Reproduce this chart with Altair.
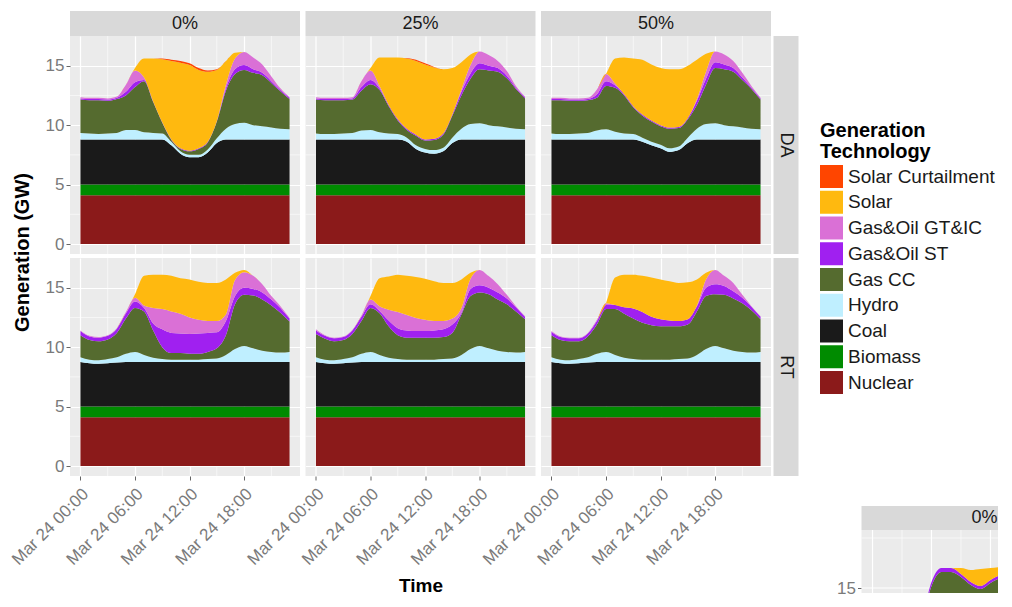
import altair as alt
import pandas as pd

HOURS = [0, 1, 2, 3, 4, 5, 6, 7, 8, 9, 10, 11, 12, 13, 14, 15, 16, 17, 18, 19, 20, 21, 22, 23]
LEGEND_ORDER = ["Solar Curtailment", "Solar", "Gas&Oil GT&IC", "Gas&Oil ST", "Gas CC",
                "Hydro", "Coal", "Biomass", "Nuclear"]
COLORS = ["#FF4500", "#FFB90F", "#DA70D6", "#A020F0", "#556B2F",
          "#BFEFFF", "#1A1A1A", "#008B00", "#8B1A1A"]
STACK_ORDER = ["Nuclear", "Biomass", "Coal", "Hydro", "Gas CC", "Gas&Oil ST",
               "Gas&Oil GT&IC", "Solar", "Solar Curtailment"]
COLS = ["0%", "25%", "50%"]
ROWS = ["DA", "RT"]
Y_TICKS = [0, 5, 10, 15]
Y_MINOR = [2.5, 7.5, 12.5]
X_TICKS = [0, 6, 12, 18]
X_MINOR = [3, 9, 15, 21]

NUCLEAR = [4.1, 4.1, 4.1, 4.1, 4.1, 4.1, 4.1, 4.1, 4.1, 4.1, 4.1, 4.1,
           4.1, 4.1, 4.1, 4.1, 4.1, 4.1, 4.1, 4.1, 4.1, 4.1, 4.1, 4.1]
BIOMASS = [0.9, 0.9, 0.9, 0.9, 0.9, 0.9, 0.9, 0.9, 0.9, 0.9, 0.9, 0.9,
           0.9, 0.9, 0.9, 0.9, 0.9, 0.9, 0.9, 0.9, 0.9, 0.9, 0.9, 0.9]
NO_CURT = [0, 0, 0, 0, 0, 0, 0, 0, 0, 0, 0, 0, 0, 0, 0, 0, 0, 0, 0, 0, 0, 0, 0, 0]

# ---- DA 0% ----
DA0_COAL = [3.8, 3.8, 3.8, 3.8, 3.8, 3.8, 3.8, 3.8, 3.8, 3.8, 3.3, 2.6, 2.3, 2.3, 2.7, 3.5, 3.8, 3.8, 3.8, 3.8, 3.8, 3.8, 3.8, 3.8]
DA0_HYDRO = [0.55, 0.5, 0.45, 0.5, 0.55, 0.8, 0.8, 0.6, 0.55, 0.5, 0.3, 0.2, 0.2, 0.2, 0.25, 0.4, 0.9, 1.3, 1.4, 1.2, 1.1, 1.0, 0.9, 0.85]
DA0_GASCC = [2.8, 2.8, 2.85, 2.75, 2.85, 2.9, 3.6, 4.3, 2.6, 0.9, 0.15, 0.2, 0.3, 0.5, 0.6, 1.4, 3.2, 4.2, 4.45, 4.4, 4.3, 3.75, 3.15, 2.55]
DA0_ST = [0.1, 0.1, 0.1, 0.1, 0.1, 0.3, 0.4, 0.1, 0.05, 0.05, 0.05, 0.05, 0.05, 0.05, 0.05, 0.05, 0.2, 0.4, 0.4, 0.3, 0.2, 0.15, 0.1, 0.1]
DA0_GTIC = [0.1, 0.1, 0.1, 0.1, 0.1, 0.6, 1.0, 0.2, 0, 0, 0, 0, 0, 0, 0, 0, 0.3, 0.9, 1.1, 1.0, 0.7, 0.4, 0.15, 0.05]
DA0_SOLAR = [0, 0, 0, 0, 0, 0, 0.2, 1.6, 3.6, 5.3, 6.6, 7.2, 7.2, 6.6, 5.9, 4.3, 2.0, 0.5, 0, 0, 0, 0, 0, 0]
DA0_CURT = [0, 0, 0, 0, 0, 0, 0, 0, 0, 0.05, 0.1, 0.15, 0.15, 0.15, 0.1, 0.05, 0, 0, 0, 0, 0, 0, 0, 0]

# ---- DA 25% ----
DA25_COAL = [3.8, 3.8, 3.8, 3.8, 3.8, 3.8, 3.8, 3.8, 3.8, 3.8, 3.6, 3.0, 2.7, 2.6, 2.8, 3.5, 3.8, 3.8, 3.8, 3.8, 3.8, 3.8, 3.8, 3.8]
DA25_HYDRO = [0.5, 0.45, 0.45, 0.5, 0.55, 0.75, 0.8, 0.6, 0.5, 0.45, 0.35, 0.3, 0.3, 0.3, 0.3, 0.45, 0.9, 1.3, 1.35, 1.2, 1.1, 1.0, 0.9, 0.85]
DA25_GASCC = [2.85, 2.85, 2.85, 2.8, 2.8, 3.35, 3.85, 3.55, 2.3, 1.15, 0.65, 0.8, 0.7, 0.85, 1.1, 1.85, 2.8, 3.8, 4.55, 4.6, 4.6, 4.15, 3.35, 2.6]
DA25_ST = [0.1, 0.1, 0.1, 0.1, 0.1, 0.3, 0.35, 0.15, 0.1, 0.1, 0.1, 0.1, 0.1, 0.1, 0.1, 0.1, 0.3, 0.45, 0.5, 0.4, 0.3, 0.2, 0.1, 0.1]
DA25_GTIC = [0.1, 0.1, 0.1, 0.1, 0.1, 0.5, 0.8, 0.2, 0, 0, 0, 0, 0, 0, 0, 0, 0.2, 0.7, 1.0, 0.9, 0.6, 0.4, 0.15, 0.05]
DA25_SOLAR = [0, 0, 0, 0, 0, 0, 0.2, 2.4, 4.0, 5.2, 5.9, 6.2, 6.3, 6.0, 5.4, 3.9, 2.3, 0.9, 0, 0, 0, 0, 0, 0]
DA25_CURT = [0, 0, 0, 0, 0, 0, 0, 0, 0, 0, 0.05, 0.1, 0.1, 0.05, 0, 0, 0, 0, 0, 0, 0, 0, 0, 0]

# ---- DA 50% ----
DA50_COAL = [3.8, 3.8, 3.8, 3.8, 3.8, 3.8, 3.8, 3.8, 3.8, 3.8, 3.6, 3.3, 3.05, 2.75, 2.9, 3.5, 3.8, 3.8, 3.8, 3.8, 3.8, 3.8, 3.8, 3.8]
DA50_HYDRO = [0.5, 0.45, 0.45, 0.5, 0.55, 0.75, 0.85, 0.65, 0.5, 0.45, 0.35, 0.3, 0.3, 0.3, 0.3, 0.45, 0.9, 1.3, 1.35, 1.2, 1.1, 1.0, 0.9, 0.85]
DA50_GASCC = [2.8, 2.85, 2.8, 2.75, 2.75, 2.75, 3.65, 3.7, 3.2, 2.25, 1.85, 1.7, 1.55, 1.65, 1.55, 1.55, 2.0, 3.3, 4.65, 4.7, 4.6, 4.0, 3.35, 2.5]
DA50_ST = [0.1, 0.1, 0.1, 0.1, 0.1, 0.3, 0.4, 0.2, 0.1, 0.1, 0.1, 0.1, 0.1, 0.1, 0.1, 0.1, 0.35, 0.5, 0.5, 0.4, 0.3, 0.2, 0.1, 0.1]
DA50_GTIC = [0.1, 0.1, 0.1, 0.1, 0.1, 0.4, 0.6, 0.15, 0, 0, 0, 0, 0, 0, 0, 0, 0.15, 0.6, 0.9, 0.85, 0.6, 0.4, 0.15, 0.05]
DA50_SOLAR = [0, 0, 0, 0, 0, 0, 0, 2.1, 3.1, 4.0, 4.6, 4.7, 4.8, 4.9, 4.85, 4.4, 3.3, 1.5, 0, 0, 0, 0, 0, 0]

# ---- RT ----
RT_COAL = [3.75, 3.65, 3.6, 3.65, 3.7, 3.75, 3.75, 3.75, 3.75, 3.75, 3.75, 3.75, 3.75, 3.75, 3.75, 3.75, 3.75, 3.75, 3.75, 3.75, 3.75, 3.75, 3.75, 3.75]
RT_HYDRO = [0.4, 0.3, 0.3, 0.35, 0.45, 0.7, 0.85, 0.6, 0.35, 0.25, 0.2, 0.2, 0.2, 0.2, 0.25, 0.3, 0.6, 1.1, 1.35, 1.15, 0.95, 0.85, 0.8, 0.85]

RT0_GASCC = [1.85, 1.65, 1.6, 1.65, 2.05, 2.95, 3.7, 3.65, 2.3, 1.0, 0.55, 0.55, 0.5, 0.5, 0.6, 0.85, 1.65, 3.75, 4.3, 4.45, 4.3, 3.9, 3.35, 2.55]
RT0_ST = [0.35, 0.3, 0.3, 0.3, 0.35, 0.45, 0.55, 0.3, 0.6, 1.5, 1.7, 1.65, 1.65, 1.7, 1.6, 1.35, 1.2, 0.7, 0.6, 0.55, 0.6, 0.5, 0.4, 0.25]
RT0_GTIC = [0.05, 0.05, 0.05, 0.05, 0.05, 0.1, 0.3, 0.2, 1.3, 1.7, 1.8, 1.65, 1.4, 1.15, 1.0, 0.95, 0.55, 1.35, 1.3, 1.1, 0.7, 0.3, 0.15, 0.05]
RT0_SOLAR = [0, 0, 0, 0, 0, 0, 0.3, 2.5, 2.8, 2.9, 3.0, 3.0, 3.2, 3.2, 3.2, 3.2, 2.95, 0.6, 0.2, 0, 0, 0, 0, 0]

RT25_GASCC = [1.95, 1.75, 1.6, 1.6, 1.95, 2.75, 3.7, 3.5, 2.65, 2.0, 1.85, 1.85, 1.85, 1.85, 1.85, 2.15, 3.4, 4.45, 4.5, 4.55, 4.3, 4.0, 3.45, 2.75]
RT25_ST = [0.3, 0.25, 0.25, 0.25, 0.3, 0.35, 0.3, 0.2, 0.5, 0.6, 0.6, 0.55, 0.55, 0.6, 0.65, 0.7, 0.15, 0.6, 0.6, 0.55, 0.6, 0.5, 0.35, 0.2]
RT25_GTIC = [0.1, 0.05, 0.05, 0.05, 0.05, 0.1, 0.4, 0.4, 0.9, 1.35, 1.3, 1.1, 0.95, 0.8, 0.7, 0.5, 0.4, 0.86, 1.3, 0.98, 0.7, 0.3, 0.1, 0.05]
RT25_SOLAR = [0, 0, 0, 0, 0, 0, 0.3, 2.35, 2.8, 3.15, 3.3, 3.45, 3.45, 3.35, 3.2, 3.0, 2.4, 0.5, 0, 0, 0, 0, 0, 0]

RT50_GASCC = [1.85, 1.65, 1.6, 1.5, 1.75, 2.45, 3.6, 3.85, 3.7, 3.4, 3.1, 2.9, 2.8, 2.8, 2.75, 2.85, 3.65, 4.45, 4.35, 4.5, 4.4, 4.1, 3.55, 2.75]
RT50_ST = [0.3, 0.25, 0.25, 0.25, 0.25, 0.3, 0.35, 0.35, 0.55, 0.85, 0.9, 0.7, 0.6, 0.5, 0.45, 0.45, 0.45, 0.7, 0.85, 0.75, 0.6, 0.45, 0.3, 0.2]
RT50_GTIC = [0.05, 0.05, 0.05, 0.05, 0.05, 0.1, 0.15, 0, 0, 0, 0, 0, 0, 0, 0, 0, 0.05, 0.7, 1.2, 0.85, 0.7, 0.25, 0.05, 0.05]
RT50_SOLAR = [0, 0, 0, 0, 0, 0, 0, 2.3, 2.75, 2.85, 3.05, 3.3, 3.35, 3.3, 3.2, 3.1, 2.2, 0.56, 0, 0, 0, 0, 0, 0]

# ---- partial second figure peeking in at the bottom right ----
MINI_HOURS = [0, 1, 2, 3, 4, 5, 6, 7, 8, 9, 10, 11, 12, 13]
MINI_COAL = [3.8, 3.8, 3.8, 3.8, 3.8, 3.8, 3.8, 3.8, 3.8, 3.8, 3.8, 3.8, 3.8, 3.8]
MINI_HYDRO = [0.5, 0.5, 0.5, 0.5, 0.5, 0.5, 0.5, 0.5, 0.5, 0.5, 0.5, 0.5, 0.5, 0.5]
MINI_GASCC = [2.55, 2.35, 2.25, 2.35, 2.75, 3.95, 5.8, 6.5, 6.5, 6.25, 5.85, 5.65, 5.95, 6.2]
MINI_ST = [0.15, 0.15, 0.15, 0.15, 0.15, 0.15, 0.2, 0.2, 0.2, 0.15, 0.15, 0.15, 0.15, 0.15]
MINI_SOLAR = [0, 0, 0, 0, 0, 0, 0, 0, 0, 0.3, 0.6, 0.85, 0.6, 0.4]
MINI_Y_TICKS = [15]
MINI_Y_MINOR = [17.5]
MINI_X_TICKS = [0, 6, 12]
MINI_X_MINOR = [3, 9]

PANELS = {
    ("DA", "0%"): {"Nuclear": NUCLEAR, "Biomass": BIOMASS, "Coal": DA0_COAL, "Hydro": DA0_HYDRO,
                   "Gas CC": DA0_GASCC, "Gas&Oil ST": DA0_ST, "Gas&Oil GT&IC": DA0_GTIC,
                   "Solar": DA0_SOLAR, "Solar Curtailment": DA0_CURT},
    ("DA", "25%"): {"Nuclear": NUCLEAR, "Biomass": BIOMASS, "Coal": DA25_COAL, "Hydro": DA25_HYDRO,
                    "Gas CC": DA25_GASCC, "Gas&Oil ST": DA25_ST, "Gas&Oil GT&IC": DA25_GTIC,
                    "Solar": DA25_SOLAR, "Solar Curtailment": DA25_CURT},
    ("DA", "50%"): {"Nuclear": NUCLEAR, "Biomass": BIOMASS, "Coal": DA50_COAL, "Hydro": DA50_HYDRO,
                    "Gas CC": DA50_GASCC, "Gas&Oil ST": DA50_ST, "Gas&Oil GT&IC": DA50_GTIC,
                    "Solar": DA50_SOLAR, "Solar Curtailment": NO_CURT},
    ("RT", "0%"): {"Nuclear": NUCLEAR, "Biomass": BIOMASS, "Coal": RT_COAL, "Hydro": RT_HYDRO,
                   "Gas CC": RT0_GASCC, "Gas&Oil ST": RT0_ST, "Gas&Oil GT&IC": RT0_GTIC,
                   "Solar": RT0_SOLAR, "Solar Curtailment": NO_CURT},
    ("RT", "25%"): {"Nuclear": NUCLEAR, "Biomass": BIOMASS, "Coal": RT_COAL, "Hydro": RT_HYDRO,
                    "Gas CC": RT25_GASCC, "Gas&Oil ST": RT25_ST, "Gas&Oil GT&IC": RT25_GTIC,
                    "Solar": RT25_SOLAR, "Solar Curtailment": NO_CURT},
    ("RT", "50%"): {"Nuclear": NUCLEAR, "Biomass": BIOMASS, "Coal": RT_COAL, "Hydro": RT_HYDRO,
                    "Gas CC": RT50_GASCC, "Gas&Oil ST": RT50_ST, "Gas&Oil GT&IC": RT50_GTIC,
                    "Solar": RT50_SOLAR, "Solar Curtailment": NO_CURT},
}
MINI = {"Nuclear": NUCLEAR[:14], "Biomass": BIOMASS[:14], "Coal": MINI_COAL, "Hydro": MINI_HYDRO,
        "Gas CC": MINI_GASCC, "Gas&Oil ST": MINI_ST, "Solar": MINI_SOLAR}

FONT = "Liberation Sans"
TXT_GREY = "#7A7A7A"
PANEL_BG = "#EBEBEB"
STRIP_BG = "#D9D9D9"
PW, PH = 230, 218
GAP_COL, GAP_ROW = 5.5, 4

CSCALE = alt.Scale(domain=LEGEND_ORDER, range=COLORS)
LEGEND = alt.Legend(orient="none", legendX=750, legendY=110,
                    title=["Generation", "Technology"], titleFontSize=20, titleFontWeight="bold",
                    titleColor="#000000", titleLineHeight=21, titlePadding=3, titleFont=FONT,
                    labelFontSize=19, labelColor="#1A1A1A", labelFont=FONT, labelLimit=300,
                    symbolType="square", symbolSize=529, symbolStrokeWidth=0, symbolOpacity=1,
                    rowPadding=2.75, labelOffset=5)


def long_df(hours, series):
    recs = []
    for tech, vals in series.items():
        for h, v in zip(hours, vals):
            recs.append({"hour": h, "tech": tech, "value": v, "ord": STACK_ORDER.index(tech)})
    return pd.DataFrame(recs)


def area_layer(df, xscale, yscale, xaxis, yaxis):
    return alt.Chart(df).mark_area(interpolate="monotone", clip=True).encode(
        x=alt.X("hour:Q", scale=xscale, axis=xaxis),
        y=alt.Y("value:Q", stack="zero", scale=yscale, axis=yaxis),
        color=alt.Color("tech:N", scale=CSCALE, legend=LEGEND),
        order=alt.Order("ord:Q", sort="ascending"),
    )


def stacked_panel(df, xaxis, yaxis):
    # minor grid lines (no axis argument: the panel's axis comes from the area layer)
    my = alt.Chart(pd.DataFrame({"v": Y_MINOR})).mark_rule(color="white", strokeWidth=0.6).encode(
        y=alt.Y("v:Q", scale=YSCALE))
    mx = alt.Chart(pd.DataFrame({"h": X_MINOR})).mark_rule(color="white", strokeWidth=0.6).encode(
        x=alt.X("h:Q", scale=XSCALE))
    return alt.layer(my, mx, area_layer(df, XSCALE, YSCALE, xaxis, yaxis)).properties(
        width=PW, height=PH, view=alt.ViewBackground(fill=PANEL_BG, strokeWidth=0))


def y_axis(show, title=None):
    kw = dict(values=Y_TICKS, grid=True, gridColor="white", gridWidth=1.2, domain=False,
              labels=show, ticks=show, labelFontSize=17, labelColor=TXT_GREY, labelFont=FONT,
              labelPadding=2, tickColor="#666666", tickSize=4, title=title)
    if title:
        kw.update(titleX=-37.5, titleY=216, titleFontSize=20, titleFontWeight="bold",
                  titleColor="#000000", titleFont=FONT)
    return alt.Axis(**kw)


def x_axis(show, title=None):
    kw = dict(values=X_TICKS, grid=True, gridColor="white", gridWidth=1.2, domain=False,
              labels=show, ticks=show, labelFontSize=17, labelColor=TXT_GREY, labelFont=FONT,
              labelAngle=315, labelAlign="right", labelBaseline="middle", labelOverlap=False,
              labelFlush=False, labelPadding=11, labelOffset=5,
              labelExpr="'Mar 24 ' + (datum.value < 10 ? '0' : '') + datum.value + ':00'",
              tickColor="#666666", tickSize=4, title=title)
    if title:
        kw.update(titleY=119, titleFontSize=19, titleFontWeight="bold", titleColor="#000000",
                  titleFont=FONT, titleBaseline="bottom")
    return alt.Axis(**kw)


def strip(label, w, h, x0, x1, y0, y1, vertical=False):
    base = alt.Chart(pd.DataFrame({"lab": [label]}))
    rect = base.mark_rect(color=STRIP_BG).encode(
        x=alt.value(x0), x2=alt.value(x1), y=alt.value(y0), y2=alt.value(y1))
    txt = base.mark_text(fontSize=18, color="#1A1A1A", font=FONT, align="center",
                         baseline="middle", angle=90 if vertical else 0).encode(
        text="lab:N", x=alt.value((x0 + x1) / 2), y=alt.value((y0 + y1) / 2))
    return alt.layer(rect, txt).properties(width=w, height=h,
                                           view=alt.ViewBackground(strokeWidth=0))


def placeholder():
    return alt.Chart(pd.DataFrame({"s": [0]})).mark_point(opacity=0).encode(
        x=alt.value(0), y=alt.value(0)).properties(width=1, height=1,
                                                  view=alt.ViewBackground(strokeWidth=0))


YSCALE = alt.Scale(domain=[-0.84, 17.5], nice=False, zero=False)
XSCALE = alt.Scale(domain=[-1.15, 24.15], nice=False, zero=False)

# ---- mini (cut-off) figure drawn in one cell: strip and panel placed low in the cell ----
MCW, MCH = 194, 335          # cell size
MX0, MSY0, MPY0 = 57.5, 248, 272  # panel left, strip top, panel top inside the cell
mini_x = alt.Scale(domain=[-1.12 - MX0 / 9.83, -1.12 + (MCW - MX0) / 9.83], nice=False, zero=False)
mini_y = alt.Scale(domain=[14.75, 14.75 + MCH / 20.0], nice=False, zero=False)
mini_base = alt.Chart(pd.DataFrame({"lab": ["0%"]}))
mini_bg = mini_base.mark_rect(color=PANEL_BG).encode(
    x=alt.value(MX0), x2=alt.value(MCW), y=alt.value(MPY0), y2=alt.value(MCH))
mini_strip = mini_base.mark_rect(color=STRIP_BG).encode(
    x=alt.value(MX0), x2=alt.value(MCW), y=alt.value(MSY0), y2=alt.value(MPY0))
mini_lab = mini_base.mark_text(fontSize=18, color="#1A1A1A", font=FONT, align="center",
                               baseline="middle").encode(
    text="lab:N", x=alt.value(MX0 + 123), y=alt.value((MSY0 + MPY0) / 2))
mini_vmaj = alt.Chart(pd.DataFrame({"h": MINI_X_TICKS})).mark_rule(color="white", strokeWidth=1.2).encode(
    x=alt.X("h:Q", scale=mini_x), y=alt.value(MPY0), y2=alt.value(MCH))
mini_vmin = alt.Chart(pd.DataFrame({"h": MINI_X_MINOR})).mark_rule(color="white", strokeWidth=0.6).encode(
    x=alt.X("h:Q", scale=mini_x), y=alt.value(MPY0), y2=alt.value(MCH))
mini_hmaj = alt.Chart(pd.DataFrame({"v": MINI_Y_TICKS})).mark_rule(color="white", strokeWidth=1.2).encode(
    y=alt.Y("v:Q", scale=mini_y), x=alt.value(MX0), x2=alt.value(MCW))
mini_hmin = alt.Chart(pd.DataFrame({"v": MINI_Y_MINOR})).mark_rule(color="white", strokeWidth=0.6).encode(
    y=alt.Y("v:Q", scale=mini_y), x=alt.value(MX0), x2=alt.value(MCW))
mini_area = area_layer(
    long_df(MINI_HOURS, MINI), mini_x, mini_y,
    alt.Axis(labels=False, ticks=False, grid=False, domain=False, title=None),
    alt.Axis(values=MINI_Y_TICKS, grid=False, domain=False, offset=-MX0,
             labelFontSize=17, labelColor=TXT_GREY, labelFont=FONT, labelPadding=2,
             tickColor="#666666", tickSize=4, title=None))
mini = alt.layer(mini_bg, mini_strip, mini_lab, mini_vmaj, mini_vmin, mini_hmaj, mini_hmin,
                 mini_area).properties(width=MCW, height=MCH,
                                       view=alt.ViewBackground(strokeWidth=0))

# ---- grid of cells (5 columns) ----
cells = []
for c in COLS:
    cells.append(strip(c, PW, 21, 0, PW, 0, 25))
cells += [placeholder(), placeholder()]
for ri, r in enumerate(ROWS):
    for ci, c in enumerate(COLS):
        df = long_df(HOURS, PANELS[(r, c)])
        ytitle = "Generation (GW)" if (ci == 0 and ri == 0) else None
        xtitle = "Time" if (ci == 1 and ri == 1) else None
        cells.append(stacked_panel(df, x_axis(ri == 1, xtitle), y_axis(ci == 0, ytitle)))
    cells.append(strip(r, 22, PH, -3, 22, 0, PH, vertical=True))
    cells.append(placeholder() if ri == 0 else mini)

chart = alt.concat(*cells, columns=5, spacing={"row": GAP_ROW, "column": GAP_COL},
                   align="each", bounds="flush").properties(
    padding={"left": 0, "top": 0, "right": 0, "bottom": 0}
).configure(font=FONT).configure_view(strokeWidth=0)

chart.save("out.html", embed_options={"renderer": "svg", "actions": False})
